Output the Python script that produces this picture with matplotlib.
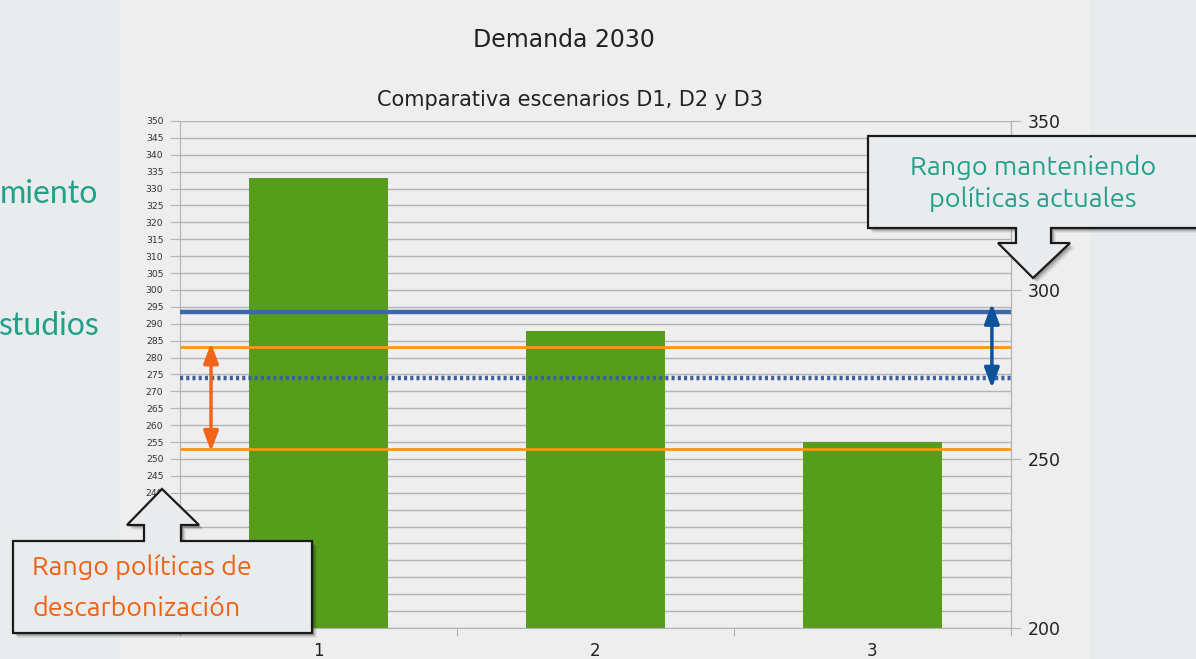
import numpy as np
import matplotlib
matplotlib.use("Agg")
import matplotlib.pyplot as plt
from matplotlib.patches import Polygon, Rectangle

# ---- data ----
escenarios = [1, 2, 3]
demanda = [333, 288, 255]
actual_max = 293.5      # solid blue line
actual_min = 274        # dotted blue line
descarb_max = 283       # orange lines
descarb_min = 253
left_ticks = list(range(200, 355, 5))
right_ticks = [200, 250, 300, 350]

W, H = 1196, 659
slide_bg = "#e9eced"
panel_bg = "#eeeeee"
grid_col = "#b3b3b3"
teal = "#23a08a"
orange_txt = "#f0600f"

fig = plt.figure(figsize=(W / 100, H / 100), dpi=100)
fig.patch.set_facecolor(slide_bg)

# background panel of the embedded chart (pixel coords)
bg = fig.add_axes([0, 0, 1, 1], zorder=0)
bg.set_xlim(0, W)
bg.set_ylim(H, 0)
bg.axis("off")
bg.add_patch(Rectangle((120, 0), 970, H, facecolor=panel_bg, edgecolor="none"))

# ---- main chart ----
left, right, top, bottom = 180, 1011, 121, 628
ax = fig.add_axes([left / W, 1 - bottom / H, (right - left) / W, (bottom - top) / H], zorder=1)
ax.set_facecolor(panel_bg)
ax.set_xlim(0.5, 3.5)
ax.set_ylim(200, 350)

# labels below 240 are hidden behind the callout in the original slide
ax.set_yticks(left_ticks)
ax.set_yticklabels([str(t) if t >= 240 else "" for t in left_ticks],
                   fontsize=6.7, color="#333333")
ax.yaxis.grid(True, color=grid_col, linewidth=1)
ax.set_axisbelow(True)
ax.tick_params(axis="y", length=7, color=grid_col, pad=5)

ax.set_xticks([0.5, 1.5, 2.5, 3.5])
ax.set_xticklabels([])
ax.set_xticks(escenarios, minor=True)
ax.set_xticklabels([str(e) for e in escenarios], minor=True, fontsize=12, color="#222222")
ax.tick_params(axis="x", which="major", length=6, color=grid_col)
ax.tick_params(axis="x", which="minor", length=0, pad=10)

ax.spines["top"].set_visible(False)
ax.spines["bottom"].set_color(grid_col)
ax.spines["left"].set_color(grid_col)
ax.spines["right"].set_color(grid_col)

ax2 = ax.twinx()
ax2.set_ylim(200, 350)
ax2.set_yticks(right_ticks)
ax2.set_yticklabels([str(t) for t in right_ticks], fontsize=12.5, color="#222222")
ax2.tick_params(axis="y", length=7, color=grid_col, pad=5)
for s in ["top", "left", "bottom"]:
    ax2.spines[s].set_visible(False)
ax2.spines["right"].set_color(grid_col)

ax.bar(escenarios, demanda, width=0.5, color="#579d1c", zorder=2)

ax.hlines(actual_max, 0.5, 3.5, color="#3c67a8", linewidth=3.2, zorder=3)
ax.hlines(actual_min, 0.5, 3.5, color="#3c5f9e", linewidth=3.2,
          linestyles=(0, (0.7, 0.7)), zorder=3)
ax.hlines([descarb_max, descarb_min], 0.5, 3.5, color="#ff950e", linewidth=2, zorder=3)

# range arrows
ax.annotate("", xy=(0.612, 284.3), xytext=(0.612, 252.3),
            arrowprops=dict(arrowstyle="<|-|>,head_length=1.2,head_width=0.45",
                            color="#f26418", lw=2.5, shrinkA=0, shrinkB=0), zorder=4)
ax.annotate("", xy=(3.431, 296), xytext=(3.431, 271),
            arrowprops=dict(arrowstyle="<|-|>,head_length=1.2,head_width=0.45",
                            color="#0e5299", lw=2.5, shrinkA=0, shrinkB=0), zorder=4)

# titles
fig.text(564 / W, 1 - 40 / H, "Demanda 2030", fontsize=17, color="#222222",
         ha="center", va="center")
fig.text(570 / W, 1 - 100 / H, "Comparativa escenarios D1, D2 y D3", fontsize=15,
         color="#222222", ha="center", va="center")

# ---- slide overlay: callouts and cut-off text ----
ov = fig.add_axes([0, 0, 1, 1], zorder=5)
ov.set_xlim(0, W)
ov.set_ylim(H, 0)
ov.axis("off")
ov.patch.set_alpha(0)

ov.text(98, 194, "miento", fontsize=23, color=teal, ha="right", va="center",
        family="Lato")
ov.text(100, 326, "studios", fontsize=23, color=teal, ha="right", va="center",
        family="Lato")


def callout(pts, face):
    pts = np.array(pts, dtype=float)
    for off, a in [(5, 0.06), (4, 0.08), (3, 0.12), (2, 0.15)]:
        ov.add_patch(Polygon(pts + off, closed=True, facecolor="black",
                             edgecolor="none", alpha=a))
    ov.add_patch(Polygon(pts, closed=True, facecolor=face, edgecolor="#1a1a1a",
                         linewidth=1.6, joinstyle="miter"))


# upper right: arrow pointing down
callout([(868, 136), (1210, 136), (1210, 228), (1051, 228), (1051, 243),
         (1070, 243), (1033, 278), (998, 243), (1016, 243), (1016, 228),
         (868, 228)], "#e9ecee")
ov.text(1033, 167, "Rango manteniendo", fontsize=19.5, color=teal, ha="center",
        va="center", family="Ubuntu")
ov.text(1033, 199, "políticas actuales", fontsize=19.5, color=teal, ha="center",
        va="center", family="Ubuntu")

# lower left: arrow pointing up
callout([(13, 541), (144, 541), (144, 525), (127, 525), (162, 489), (199, 525),
         (181, 525), (181, 541), (312, 541), (312, 633), (13, 633)], "#e9ecee")
ov.text(32, 567, "Rango políticas de", fontsize=19.3, color=orange_txt, ha="left",
        va="center", family="Ubuntu")
ov.text(32, 608, "descarbonización", fontsize=19.3, color=orange_txt, ha="left",
        va="center", family="Ubuntu")

fig.savefig("out.png", dpi=100, facecolor=fig.get_facecolor())
